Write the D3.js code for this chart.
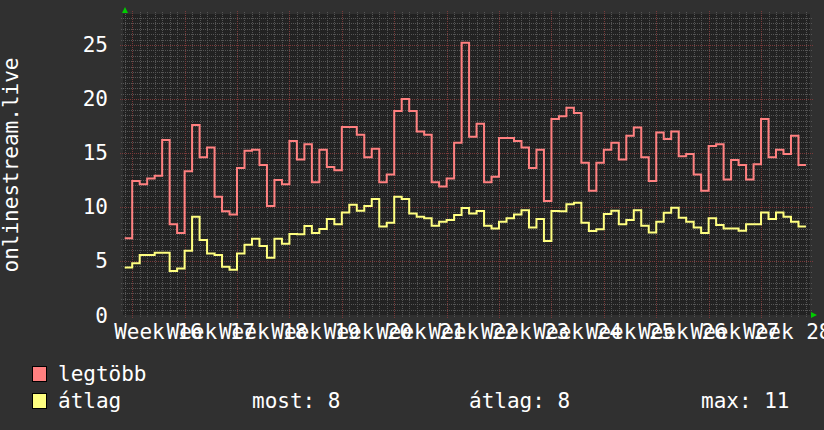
<!DOCTYPE html>
<html>
<head>
<meta charset="utf-8">
<script src="https://cdn.jsdelivr.net/npm/d3@7"></script>
<style>
  body { margin: 0; background: #303030; }
  text { font-family: "DejaVu Sans Mono", monospace; fill: #ffffff; }
</style>
</head>
<body>
<svg id="drawing_region"></svg>
<script>
// daily values, first one is the partial day before week 16
const startDay = -1;
const maxValues = [
  7.1, 12.4, 12.1, 12.65, 12.9, 16.2, 8.4, 7.6, 13.3, 17.6, 14.6, 15.5, 10.95, 9.6, 9.3,
  13.6, 15.2, 15.3, 13.9, 10.1, 12.5, 12.1, 16.1, 14.4, 15.8, 12.3, 15.3, 13.7, 13.4, 17.4,
  17.4, 16.7, 14.6, 15.4, 12.3, 13.0, 18.9, 20.0, 18.9, 17.0, 16.7, 12.3, 11.9, 12.65, 15.95,
  25.2, 16.5, 17.7, 12.3, 12.8, 16.4, 16.4, 16.1, 15.5, 13.6, 15.3, 10.55, 18.15, 18.4, 19.2, 18.7,
  14.1, 11.5, 14.1, 15.3, 15.95, 14.4, 16.6, 17.35, 14.6, 12.4, 16.9, 16.3, 17.0, 14.7, 14.9,
  13.0, 11.5, 15.65, 15.8, 12.55, 14.35, 13.9, 12.55, 13.95, 18.15, 14.6, 15.3, 14.9, 16.6, 13.9
];
const avgValues = [
  4.4, 4.8, 5.55, 5.55, 5.77, 5.77, 4.07, 4.3, 5.95, 9.1, 6.95, 5.7, 5.55, 4.47, 4.2,
  5.7, 6.5, 7.05, 6.4, 5.3, 7.05, 6.6, 7.5, 7.47, 8.25, 7.6, 7.96, 8.9, 8.4, 9.5,
  10.2, 9.66, 10.1, 10.74, 8.2, 8.55, 10.95, 10.74, 9.4, 9.1, 8.95, 8.27, 8.64, 8.8, 9.26,
  9.9, 9.4, 9.63, 8.27, 8.0, 8.64, 8.95, 9.3, 9.7, 8.1, 8.9, 6.85, 9.63, 9.6, 10.25, 10.4,
  8.55, 7.78, 7.93, 9.35, 9.66, 8.4, 8.8, 9.7, 8.27, 7.65, 8.64, 9.47, 9.94, 9.0, 8.64,
  8.1, 7.6, 8.95, 8.33, 8.0, 8.0, 7.8, 8.4, 8.4, 9.5, 8.9, 9.5, 9.1, 8.64, 8.2
];
const weekLabels = ["Week 16", "Week 17", "Week 18", "Week 19", "Week 20", "Week 21", "Week 22",
  "Week 23", "Week 24", "Week 25", "Week 26", "Week 27", "Week 28"];
const yTicks = [0, 5, 10, 15, 20, 25];
const seriesNames = ["legtöbb", "átlag"];
const statLabels = ["most: 8", "átlag: 8", "max: 11"];
const yTitle = "onlinestream.live";

var width = 824;
var height = 430;
var plot = {left: 123, right: 810, top: 14, bottom: 315};

var svg = d3.select('#drawing_region')
    .attr('width', width)
    .attr('height', height);

svg.append('rect')
    .attr('width', width)
    .attr('height', height)
    .attr('fill', '#303030');

const xscale = d3.scaleLinear()
      .domain([-1.23, 90.54])
      .range([plot.left, plot.right]);
const yscale = d3.scaleLinear()
      .domain([0, 27.87])
      .range([plot.bottom, plot.top]);

svg.append('rect')
    .attr('x', plot.left)
    .attr('y', plot.top)
    .attr('width', plot.right - plot.left)
    .attr('height', plot.bottom - plot.top)
    .attr('fill', '#222222');

// minor grid
const grid = svg.append('g');
const dayLines = d3.range(-1, 91).filter(d => d % 7 != 0);
grid.selectAll('.vmin').data(dayLines).join('line')
    .attr('x1', d => Math.round(xscale(d)) + 0.5)
    .attr('x2', d => Math.round(xscale(d)) + 0.5)
    .attr('y1', plot.top - 2)
    .attr('y2', plot.bottom + 2)
    .attr('stroke', '#555555')
    .attr('stroke-dasharray', '1,1');
const halfSteps = d3.range(0.5, 28, 0.5).filter(d => d % 5 != 0);
grid.selectAll('.hmin').data(halfSteps).join('line')
    .attr('x1', plot.left - 2)
    .attr('x2', plot.right + 2)
    .attr('y1', d => Math.round(yscale(d)) + 0.5)
    .attr('y2', d => Math.round(yscale(d)) + 0.5)
    .attr('stroke', '#555555')
    .attr('stroke-dasharray', '1,1');

// major grid
const weekStarts = weekLabels.map((w, i) => i * 7);
grid.selectAll('.vmaj').data(weekStarts).join('line')
    .attr('x1', d => Math.round(xscale(d)) + 0.5)
    .attr('x2', d => Math.round(xscale(d)) + 0.5)
    .attr('y1', plot.top - 3)
    .attr('y2', plot.bottom + 3)
    .attr('stroke', '#7a3a3a')
    .attr('stroke-dasharray', '1,1');
grid.selectAll('.hmaj').data(yTicks.filter(d => d > 0)).join('line')
    .attr('x1', plot.left - 3)
    .attr('x2', plot.right + 3)
    .attr('y1', d => Math.round(yscale(d)) + 0.5)
    .attr('y2', d => Math.round(yscale(d)) + 0.5)
    .attr('stroke', '#7a3a3a')
    .attr('stroke-dasharray', '1,1');

// y labels
svg.selectAll('.ylab').data(yTicks).join('text')
    .attr('x', 108)
    .attr('y', d => yscale(d) + 7.5)
    .attr('text-anchor', 'end')
    .attr('font-size', 21)
    .text(d => d);

// x labels, centered in each week
svg.selectAll('.xlab').data(weekLabels).join('text')
    .attr('x', (d, i) => xscale(i * 7 + 3.5))
    .attr('y', 339)
    .attr('text-anchor', 'middle')
    .attr('font-size', 21)
    .text(d => d);

svg.append('text')
    .attr('transform', 'translate(18,165) rotate(-90)')
    .attr('text-anchor', 'middle')
    .attr('font-size', 21)
    .text(yTitle);

// step lines
svg.append('clipPath').attr('id', 'clip')
    .append('rect')
    .attr('x', plot.left).attr('y', plot.top)
    .attr('width', plot.right - plot.left)
    .attr('height', plot.bottom - plot.top);

function stepPoints(values) {
    var pts = values.map((v, i) => ({x: startDay + i, y: v}));
    pts.push({x: startDay + values.length, y: values[values.length - 1]});
    return pts;
}
const line = d3.line()
      .x(d => xscale(d.x))
      .y(d => yscale(d.y))
      .curve(d3.curveStepAfter);

svg.append('path')
    .attr('clip-path', 'url(#clip)')
    .attr('d', line(stepPoints(maxValues)))
    .attr('stroke', '#ff8080')
    .attr('stroke-width', 2)
    .attr('fill', 'none');
svg.append('path')
    .attr('clip-path', 'url(#clip)')
    .attr('d', line(stepPoints(avgValues)))
    .attr('stroke', '#ffff80')
    .attr('stroke-width', 2)
    .attr('fill', 'none');

// axis arrows
svg.append('path')
    .attr('d', `M${plot.left - 1},13 L${plot.left + 5},13 L${plot.left + 2},7 Z`)
    .attr('fill', '#00cc00');
svg.append('path')
    .attr('d', `M811,${plot.bottom - 3} L811,${plot.bottom + 3} L817,${plot.bottom} Z`)
    .attr('fill', '#00cc00');

// legend
const colors = ['#ff8080', '#ffff80'];
const legend = svg.append('g');
legend.selectAll('rect').data(seriesNames).join('rect')
    .attr('x', 32.5)
    .attr('y', (d, i) => 366.5 + i * 27)
    .attr('width', 14)
    .attr('height', 15)
    .attr('fill', (d, i) => colors[i])
    .attr('stroke', '#000000');
legend.selectAll('text').data(seriesNames).join('text')
    .attr('x', 58)
    .attr('y', (d, i) => 381 + i * 27)
    .attr('font-size', 21)
    .text(d => d);
const statX = [252, 469, 701];
svg.selectAll('.stat').data(statLabels).join('text')
    .attr('x', (d, i) => statX[i])
    .attr('y', 408)
    .attr('font-size', 21)
    .text(d => d);
</script>
</body>
</html>
